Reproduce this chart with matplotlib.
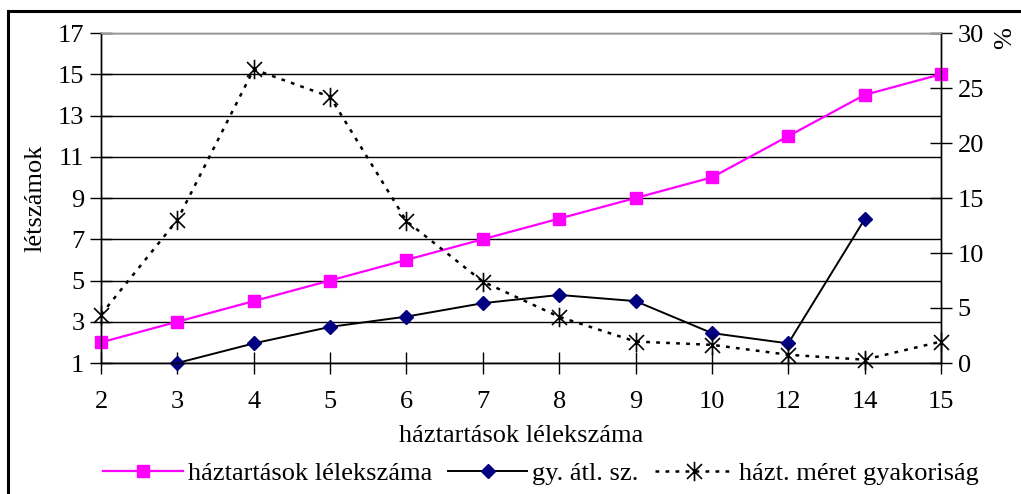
import numpy as np
import matplotlib
matplotlib.use("Agg")
import matplotlib.pyplot as plt
from matplotlib.path import Path
from matplotlib.patches import Rectangle

plt.rcParams['font.family'] = ['Liberation Serif', 'DejaVu Serif']

# adatok
categories = ['2', '3', '4', '5', '6', '7', '8', '9', '10', '12', '14', '15']
hazt_letszam = [2, 3, 4, 5, 6, 7, 8, 9, 10, 12, 14, 15]
gy_atl_sz = [np.nan, 1.0, 1.95, 2.75, 3.25, 3.9, 4.3, 4.0, 2.45, 1.95, 7.97, np.nan]
meret_gyak = [4.4, 13.0, 26.7, 24.2, 12.9, 7.4, 4.2, 1.95, 1.65, 0.75, 0.3, 1.95]

left_ticks = [1, 3, 5, 7, 9, 11, 13, 15, 17]
right_ticks = [0, 5, 10, 15, 20, 25, 30]

FS = 19

# csillag marker (x + függőleges vonal)
star = Path([(-1, -1), (1, 1), (-1, 1), (1, -1), (0, -1.3), (0, 1.3)],
            [Path.MOVETO, Path.LINETO, Path.MOVETO, Path.LINETO, Path.MOVETO, Path.LINETO])

fig = plt.figure(figsize=(10.21, 4.94), dpi=100)
ax = fig.add_axes([101 / 1021, 1 - 363 / 494, 840 / 1021, 330 / 494])
ax2 = ax.twinx()

x = np.arange(len(categories))

l1, = ax.plot(x, hazt_letszam, color='#ff00ff', lw=1.6, marker='s', ms=8,
              mfc='#ff00ff', mec='#ff00ff', zorder=4, clip_on=False,
              label='háztartások lélekszáma')
l2, = ax.plot(x, gy_atl_sz, color='black', lw=1.4, marker='D', ms=7,
              mfc='#000080', mec='#000080', zorder=4, clip_on=False, label='gy. átl. sz.')
l3, = ax2.plot(x, meret_gyak, color='black', lw=1.8, ls=(0, (1.5, 2.5)), marker=star, ms=14,
               mec='black', mew=1.2, zorder=4, clip_on=False, label='házt. méret gyakoriság')

ax.set_xlim(0, len(categories) - 1)
ax.set_ylim(1, 17)
ax2.set_ylim(0, 30)
ax.set_xticks(x)
ax.set_xticklabels(categories)
ax.set_yticks(left_ticks)
ax2.set_yticks(right_ticks)

ax.yaxis.grid(True, color='black', lw=1.0)
ax.set_axisbelow(True)

for a in (ax, ax2):
    for s in a.spines.values():
        s.set_linewidth(1.0)
        s.set_color('black')
ax.spines['top'].set_color('#999999')
ax2.spines['top'].set_color('#999999')

ax.tick_params(axis='x', direction='inout', length=16, width=1, labelsize=FS, pad=12)
ax.tick_params(axis='y', direction='inout', length=16, width=1, labelsize=FS, pad=4)
ax2.tick_params(axis='y', direction='inout', length=16, width=1, labelsize=FS, pad=4)

ax.set_xlabel('háztartások lélekszáma', fontsize=FS, labelpad=9)
ax.set_ylabel('létszámok', fontsize=FS, labelpad=8)
fig.text(1005 / 1021, 1 - 38 / 494, '%', rotation=90, fontsize=FS, ha='center', va='center')

fig.legend(handles=[l1, l2, l3], loc='center', bbox_to_anchor=(0.53, 1 - 473 / 494),
           ncol=3, frameon=False, fontsize=FS, handlelength=3.0, handletextpad=0.2,
           columnspacing=0.6, borderaxespad=0)

# külső keret
fig.patches.append(Rectangle((8 / 1021, -0.1), 1.2, 1 - 11 / 494 + 0.1, transform=fig.transFigure,
                             fill=False, ec='black', lw=2.2))

fig.savefig('out.png', dpi=100)
